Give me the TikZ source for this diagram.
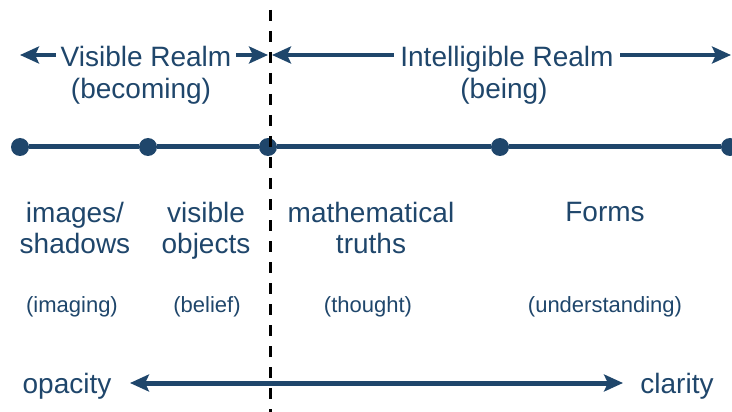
\documentclass[tikz,border=0pt]{standalone}
\usepackage{fontspec}
\setmainfont{Liberation Sans}
\usetikzlibrary{arrows.meta,positioning}
\definecolor{linha}{RGB}{31,70,107}

\begin{document}
\begin{tikzpicture}[x=1pt,y=-1pt,
        ponto/.style={circle,fill=linha,inner sep=0pt,minimum size=18pt},
        rotulo/.style={text=linha,align=center,anchor=base,inner sep=0pt,
                       font=\fontsize{28}{31}\selectfont},
        menor/.style={text=linha,anchor=base,inner sep=0pt,font=\fontsize{22}{26}\selectfont},
        seta/.style={{Stealth[length=19pt,width=17pt,inset=4pt]}-{Stealth[length=19pt,width=17pt,inset=4pt]},
                     line width=4pt,linha},
        eixo/.style={line width=5pt,linha},
        corte/.style={line width=3pt,dash pattern=on 11pt off 10pt}]
      \useasboundingbox (0,0) rectangle (732,412);
      % realms
      \coordinate (v1) at (20,55);\coordinate (v2) at (268,55);
      \coordinate (i1) at (272,55);\coordinate (i2) at (731,55);
      \draw[seta](v1)--(v2);\draw[seta](i1)--(i2);
      \node[rotulo,fill=white,inner xsep=5pt,inner ysep=3pt] (vis) at (146,67) {Visible Realm};
      \node[rotulo] (vis2) at (141,99) {(becoming)};
      \node[rotulo,fill=white,inner xsep=6pt,inner ysep=3pt] (int) at (507,67) {Intelligible Realm};
      \node[rotulo] (int2) at (504,99) {(being)};
      % line
      \node[ponto] (p1) at (20,147) {};
      \node[ponto] (p2) at (148,147) {};
      \node[ponto] (p3) at (268,147) {};
      \node[ponto] (p4) at (500,147) {};
      \node[ponto] (p5) at (730,147) {};
      \coordinate (fim) at (732,147);
      \draw[eixo](p1)--(p2);\draw[eixo](p2)--(p3);\draw[eixo](p3)--(p4);\draw[eixo](p4)--(p5);\draw[eixo](p5)--(fim);
      % segments
      \node[rotulo] (imag) at (75,253) {images/\\shadows};
      \node[rotulo] (obj) at (206,253) {visible\\objects};
      \node[rotulo] (mat) at (371,253) {mathematical\\truths};
      \node[rotulo] (form) at (605,222) {Forms};
      \node[menor] (s1) at (72,312) {(imaging)};
      \node[menor] (s2) at (207,312) {(belief)};
      \node[menor] (s3) at (368,312) {(thought)};
      \node[menor] (s4) at (605,312) {(understanding)};
      % opacity / clarity
      \node[rotulo] (opa) at (67,393) {opacity};
      \node[rotulo] (cla) at (677,393) {clarity};
      \coordinate (o1) at (130,383);\coordinate (o2) at (623,383);
      \draw[seta,line width=5pt](o1)--(o2);
      % divide
      \coordinate (d1) at (270,10);\coordinate (d2) at (270,412);
      \draw[corte](d1)--(d2);
    \end{tikzpicture}
\end{document}
